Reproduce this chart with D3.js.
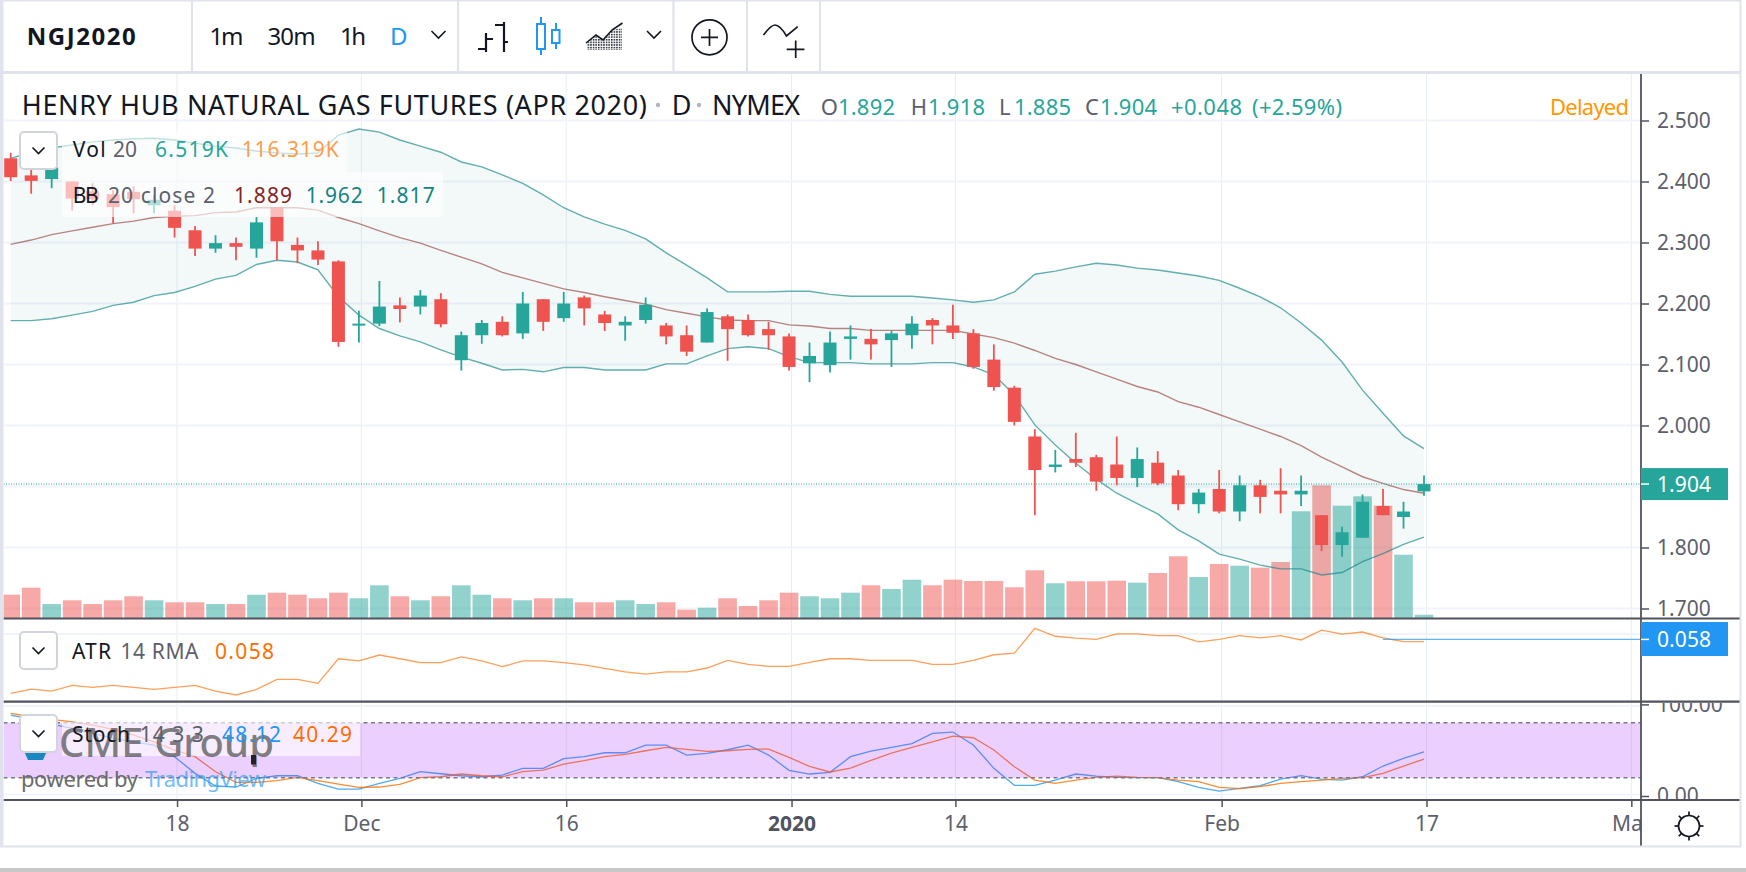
<!DOCTYPE html>
<html>
<head>
<meta charset="utf-8">
<script src="https://cdn.jsdelivr.net/npm/d3@7"></script>
<style>
  html, body { margin: 0; padding: 0; background: #fff; overflow: hidden; }
  svg { display: block; font-family: "Noto Sans", sans-serif; }
</style>
</head>
<body>
<svg id="chart" width="1746" height="872"></svg>
<script>
// daily bars, NGJ2020
const open = [
  2.438,2.410,2.404,2.400,2.384,2.379,2.383,2.361,2.352,2.320,
  2.290,2.299,2.290,2.358,2.296,2.287,2.269,2.165,2.167,2.197,
  2.195,2.207,2.107,2.148,2.170,2.151,2.207,2.176,2.210,2.182,
  2.164,2.173,2.164,2.148,2.136,2.179,2.173,2.158,2.146,2.102,
  2.099,2.142,2.142,2.140,2.148,2.173,2.164,2.151,2.108,2.062,
  1.982,1.932,1.945,1.948,1.936,1.914,1.939,1.918,1.871,1.896,
  1.859,1.902,1.893,1.887,1.853,1.804,1.816,1.868,1.850,1.892];
const high = [
  2.447,2.419,2.427,2.400,2.397,2.386,2.392,2.378,2.361,2.327,
  2.312,2.308,2.342,2.358,2.308,2.302,2.271,2.188,2.237,2.210,
  2.222,2.217,2.154,2.173,2.179,2.219,2.207,2.219,2.213,2.188,
  2.179,2.210,2.168,2.164,2.192,2.182,2.182,2.170,2.151,2.136,
  2.154,2.164,2.158,2.155,2.179,2.176,2.198,2.158,2.133,2.065,
  1.994,1.960,1.988,1.952,1.982,1.964,1.958,1.927,1.896,1.927,
  1.918,1.911,1.930,1.918,1.853,1.834,1.887,1.896,1.875,1.918];
const low = [
  2.401,2.380,2.389,2.352,2.361,2.331,2.348,2.348,2.308,2.278,
  2.283,2.271,2.275,2.271,2.266,2.263,2.129,2.136,2.163,2.169,
  2.182,2.161,2.090,2.134,2.146,2.142,2.155,2.170,2.164,2.155,
  2.139,2.167,2.133,2.114,2.136,2.106,2.146,2.124,2.090,2.071,
  2.087,2.108,2.108,2.096,2.126,2.133,2.142,2.093,2.057,2.000,
  1.853,1.923,1.932,1.893,1.902,1.899,1.902,1.861,1.856,1.856,
  1.843,1.856,1.856,1.868,1.794,1.785,1.816,1.853,1.831,1.885];
const close = [
  2.407,2.401,2.423,2.372,2.371,2.358,2.371,2.370,2.324,2.290,
  2.299,2.293,2.333,2.302,2.287,2.272,2.137,2.167,2.195,2.191,
  2.213,2.166,2.148,2.168,2.148,2.200,2.170,2.200,2.192,2.168,
  2.170,2.198,2.146,2.121,2.186,2.158,2.148,2.148,2.096,2.114,
  2.136,2.146,2.133,2.151,2.167,2.164,2.152,2.096,2.063,2.006,
  1.927,1.936,1.939,1.908,1.914,1.945,1.905,1.871,1.890,1.859,
  1.902,1.883,1.887,1.893,1.804,1.825,1.875,1.853,1.859,1.904];
// volume in thousands
const volume = [
  46.6,60.6,28,35.4,28,35.4,43.4,35.4,31.4,31.4,
  28,28,46.6,50.6,46.6,39.4,50.6,39.4,65.4,43.4,
  35.4,43.4,65.4,46.6,39.4,35.4,39.4,39.4,31.4,31.4,
  35.4,28,31.4,16.6,20.6,39.4,24,35.4,50.6,43.4,
  39.4,50.6,65.4,58,76.6,65.4,76.6,74,74,61.4,
  95.4,69.4,73.4,73.4,74.6,70.6,90,123.4,82,108,
  104.6,100.6,112,213.4,265.4,224.6,243.4,224.6,126.6,6.519];
// bollinger 20 close 2
const bbUpper = [
  2.438,2.448,2.455,2.460,2.465,2.468,2.470,2.471,2.468,2.463,
  2.458,2.455,2.450,2.447,2.445,2.447,2.476,2.486,2.481,2.468,
  2.458,2.448,2.432,2.424,2.411,2.397,2.378,2.357,2.342,2.330,
  2.320,2.306,2.283,2.263,2.242,2.219,2.219,2.219,2.220,2.220,
  2.215,2.212,2.212,2.212,2.212,2.209,2.206,2.202,2.206,2.219,
  2.248,2.253,2.260,2.266,2.263,2.258,2.255,2.250,2.245,2.238,
  2.225,2.211,2.193,2.168,2.140,2.104,2.058,2.020,1.983,1.962];
const bbMiddle = [
  2.297,2.304,2.313,2.319,2.325,2.331,2.335,2.341,2.343,2.344,
  2.349,2.350,2.357,2.357,2.357,2.353,2.341,2.331,2.319,2.308,
  2.299,2.287,2.276,2.265,2.251,2.242,2.233,2.224,2.218,2.211,
  2.205,2.199,2.190,2.184,2.178,2.173,2.172,2.172,2.165,2.163,
  2.159,2.159,2.156,2.156,2.156,2.156,2.156,2.150,2.144,2.135,
  2.123,2.110,2.100,2.088,2.076,2.064,2.055,2.039,2.030,2.018,
  2.006,1.994,1.982,1.967,1.948,1.932,1.916,1.905,1.895,1.889];
const bbLower = [
  2.172,2.172,2.175,2.181,2.187,2.197,2.202,2.213,2.218,2.228,
  2.240,2.246,2.264,2.271,2.268,2.255,2.211,2.181,2.159,2.147,
  2.137,2.124,2.112,2.102,2.091,2.092,2.088,2.095,2.095,2.091,
  2.091,2.091,2.101,2.101,2.114,2.126,2.129,2.126,2.113,2.103,
  2.103,2.103,2.101,2.101,2.101,2.103,2.103,2.096,2.083,2.050,
  2.001,1.968,1.938,1.912,1.889,1.872,1.855,1.829,1.811,1.789,
  1.781,1.771,1.765,1.765,1.755,1.759,1.777,1.790,1.805,1.817];
const atr = [
  .0376,.0392,.0385,.0406,.0399,.0406,.0399,.0391,.0399,.0406,
  .0385,.0370,.0391,.0429,.0429,.0414,.0507,.0499,.0521,.0507,
  .0492,.0492,.0514,.0499,.0477,.0499,.0499,.0492,.0484,.0471,
  .0457,.0449,.0457,.0457,.0472,.0501,.0486,.0478,.0478,.0493,
  .0507,.0507,.0501,.0501,.0501,.0486,.0486,.0501,.0522,.0528,
  .0622,.0592,.0585,.0580,.0601,.0601,.0594,.0594,.0571,.0580,
  .0594,.0586,.0594,.0578,.0615,.0600,.0608,.0586,.0572,.0572];
const stochK = [
  88.3,84,78.5,73.8,68.3,62.9,59.2,55.6,42.9,24.7,
  10.9,9.8,19.2,22.1,22.1,13.8,7.6,7.6,13.8,19.2,
  26.5,24.3,22.1,21,22.9,30.2,30.2,40.7,42.9,47.2,
  47.2,55.6,55.6,44.7,46.5,50.5,55.6,44.7,28,24,
  25.8,42.9,49.1,53.1,57.1,68.3,69.8,55.6,30.2,11.6,
  11.6,17.4,24,21.8,20.3,20,20,15.6,9.4,5.4,
  8.3,11.2,18.5,22.2,18.5,17.4,21,32.7,41,48.12];
const stochD = [
  90.1,86.5,83.6,81,77.4,72.7,66.5,59.2,50.1,42.9,
  26.5,14.9,14.9,16.7,20.3,16.7,13,9.4,9.8,12.7,
  20,21,24,22.1,21,26.5,28.3,34.9,38.5,42.9,
  45.4,49.4,53.1,50.9,48.7,49.4,50.9,51.2,42.1,32.3,
  26.2,30.5,38.9,46.9,53.1,59.2,65.4,63.6,50.2,32,
  17.4,13.8,17.4,20.3,21.8,20.3,20,17.4,15.6,9.4,
  8,10.2,13.8,15.6,17.4,19.3,20,24.7,32.7,40.29];

const timeTickBars = [8, 17, 27, 38, 46, 59, 69, 79];
const timeTickLabels = ['18', 'Dec', '16', '2020', '14', 'Feb', '17', 'Mar'];
const priceTicks = [2.5, 2.4, 2.3, 2.2, 2.1, 2.0, 1.9, 1.8, 1.7];
const lastPrice = 1.904;
const atrLast = 0.058;
const stochBands = [80, 20];

const GREEN = '#26a69a', RED = '#ef5350', INK = '#131722', MUTED = '#5d606b';
const LINE = '#50535e', BORDER = '#e0e3eb', GRID = '#f0f3fa', VGRID = '#e6edf3';
const AXIS_X = 1641, LEFT = 3.5, RIGHT_EDGE = 1740;

const bars = d3.range(open.length);
const x = d3.scaleLinear().domain([0, 69]).range([10.7, 1424]);
const gridX = i => x(i) + 2.5;
const yPrice = d3.scaleLinear().domain([1.7, 2.5]).range([608.5, 120.5]);
const yVol = d3.scaleLinear().domain([0, 265.4]).range([618, 485.3]);
const yAtr = d3.scaleLinear().domain([0.037, 0.0622]).range([695, 628.3]);
const yStoch = d3.scaleLinear().domain([0, 100]).range([796, 704.4]);

const svg = d3.select('#chart');
const defs = svg.append('defs');
function clip(id, x0, y0, w, h) {
  defs.append('clipPath').attr('id', id).append('rect')
    .attr('x', x0).attr('y', y0).attr('width', w).attr('height', h);
}
clip('mainPane', LEFT, 74, AXIS_X - LEFT, 544);
clip('atrPane', LEFT, 620, AXIS_X - LEFT, 81);
clip('stochPane', LEFT, 703, AXIS_X - LEFT, 96);
clip('stochAxis', AXIS_X, 703, 100, 96);
clip('timeAxis', LEFT, 800, AXIS_X - LEFT, 46);

// small text helper, width stretches the run to what the picture measures
function label(g, px, baseline, str, size, fill, width, weight) {
  const t = g.append('text').attr('x', px).attr('y', baseline)
    .attr('font-size', size).attr('fill', fill).text(str);
  if (width) t.attr('textLength', width);
  if (weight) t.attr('font-weight', weight);
  return t;
}
function hline(g, x0, x1, y, color, w) {
  return g.append('line').attr('x1', x0).attr('x2', x1).attr('y1', y).attr('y2', y)
    .attr('stroke', color).attr('stroke-width', w);
}
function vline(g, px, y0, y1, color, w) {
  return g.append('line').attr('x1', px).attr('x2', px).attr('y1', y0).attr('y2', y1)
    .attr('stroke', color).attr('stroke-width', w);
}

// grid
const grid = svg.append('g');
timeTickBars.forEach(i => {
  vline(grid, gridX(i), 74, 618, VGRID, 1);
  vline(grid, gridX(i), 620, 701, VGRID, 1);
  vline(grid, gridX(i), 703, 799, VGRID, 1);
});
priceTicks.forEach(p => hline(grid, LEFT, AXIS_X, yPrice(p), GRID, 2));
hline(grid, LEFT, AXIS_X, 634, GRID, 2);
[100, 0].forEach(v => hline(grid, LEFT, AXIS_X, yStoch(v) + (v ? 1.5 : -1.5), GRID, 2));

// price pane
const main = svg.append('g').attr('clip-path', 'url(#mainPane)');
main.selectAll('rect.vol').data(bars).join('rect').attr('class', 'vol')
  .attr('x', i => x(i) - 9.3).attr('width', 18.6)
  .attr('y', i => yVol(volume[i])).attr('height', i => yVol(0) - yVol(volume[i]))
  .attr('fill', i => close[i] >= open[i] ? GREEN : RED)
  .attr('fill-opacity', 0.5);

const bandArea = d3.area().x(i => x(i)).y0(i => yPrice(bbLower[i])).y1(i => yPrice(bbUpper[i]));
main.append('path').datum(bars).attr('d', bandArea).attr('fill', '#138484').attr('fill-opacity', 0.05);
function priceLine(values, color, opacity) {
  main.append('path').datum(bars)
    .attr('d', d3.line().x(i => x(i)).y(i => yPrice(values[i])))
    .attr('fill', 'none').attr('stroke', color).attr('stroke-width', 1.4).attr('stroke-opacity', opacity);
}
priceLine(bbUpper, '#138484', 0.65);
priceLine(bbLower, '#138484', 0.65);
priceLine(bbMiddle, '#872323', 0.55);

hline(main, LEFT, AXIS_X, yPrice(lastPrice), GREEN, 1).attr('stroke-dasharray', '1 1.5');

const candle = i => close[i] >= open[i] ? GREEN : RED;
main.selectAll('line.wick').data(bars).join('line').attr('class', 'wick')
  .attr('x1', x).attr('x2', x)
  .attr('y1', i => yPrice(high[i])).attr('y2', i => yPrice(low[i]))
  .attr('stroke', candle).attr('stroke-width', 1.8);
main.selectAll('rect.body').data(bars).join('rect').attr('class', 'body')
  .attr('x', i => x(i) - 6.5).attr('width', 13)
  .attr('y', i => yPrice(Math.max(open[i], close[i])))
  .attr('height', i => Math.max(2, Math.abs(yPrice(open[i]) - yPrice(close[i]))))
  .attr('fill', candle);

// atr pane
const atrPane = svg.append('g').attr('clip-path', 'url(#atrPane)');
atrPane.append('path').datum(bars)
  .attr('d', d3.line().x(i => x(i)).y(i => yAtr(atr[i])))
  .attr('fill', 'none').attr('stroke', '#ff6d00').attr('stroke-width', 1.3).attr('stroke-opacity', 0.65);
hline(atrPane, x(67), AXIS_X, yAtr(atrLast), '#2196f3', 1.2).attr('stroke-opacity', 0.7);

// stoch pane, the purple band sits on top of the lines
const stochPane = svg.append('g').attr('clip-path', 'url(#stochPane)');
function stochLine(values, color) {
  stochPane.append('path').datum(bars)
    .attr('d', d3.line().x(i => x(i)).y(i => yStoch(values[i])))
    .attr('fill', 'none').attr('stroke', color).attr('stroke-width', 1.3).attr('stroke-opacity', 0.8);
}
stochLine(stochK, '#2196f3');
stochLine(stochD, '#ff6d00');
stochPane.append('rect').attr('x', LEFT).attr('width', AXIS_X - LEFT)
  .attr('y', yStoch(stochBands[0])).attr('height', yStoch(stochBands[1]) - yStoch(stochBands[0]))
  .attr('fill', '#9915ff').attr('fill-opacity', 0.2);
stochBands.forEach(v => hline(stochPane, LEFT, AXIS_X, yStoch(v), '#787b86', 1.4).attr('stroke-dasharray', '4 3.5'));

// axes
function styleAxis(g) {
  g.select('.domain').remove();
  g.selectAll('.tick line').attr('stroke', LINE).attr('stroke-width', 1.5);
  g.selectAll('.tick text').attr('fill', MUTED).attr('font-size', 21)
    .attr('font-family', '"Noto Sans", sans-serif');
}
svg.append('g').attr('transform', `translate(${AXIS_X},0)`)
  .call(d3.axisRight(yPrice).tickValues(priceTicks.filter(p => p !== 1.9))
    .tickFormat(d3.format('.3f')).tickSize(8).tickPadding(8))
  .call(styleAxis);
// clip sits on a wrapper, clip rects are in page coordinates
svg.append('g').attr('clip-path', 'url(#stochAxis)')
  .append('g').attr('transform', `translate(${AXIS_X},0)`)
  .call(d3.axisRight(yStoch).tickValues([100, 0])
    .tickFormat(d3.format('.2f')).tickSize(8).tickPadding(8))
  .call(styleAxis);
svg.append('g').attr('clip-path', 'url(#timeAxis)')
  .append('g').attr('transform', 'translate(0,800)')
  .call(d3.axisBottom(d3.scaleLinear().domain(x.domain()).range(x.range().map(v => v + 2.5)))
    .tickValues(timeTickBars).tickFormat((d, i) => timeTickLabels[i]).tickSize(7).tickPadding(9))
  .call(styleAxis)
  .call(g => g.selectAll('.tick text').filter((d, i) => timeTickLabels[i] === '2020').attr('font-weight', 700).attr('fill', LINE));

// separators and last value pills
hline(svg, LEFT, RIGHT_EDGE, 618.5, LINE, 2.2);
hline(svg, LEFT, RIGHT_EDGE, 701.7, LINE, 2.2);
hline(svg, LEFT, RIGHT_EDGE, 800, LINE, 2.2);
vline(svg, AXIS_X, 74, 846, LINE, 1.8);

svg.append('rect').attr('x', AXIS_X).attr('y', yPrice(lastPrice) - 16).attr('width', 87).attr('height', 32).attr('fill', GREEN);
hline(svg, AXIS_X, AXIS_X + 8, yPrice(lastPrice), '#fff', 1.5);
label(svg, 1657, yPrice(lastPrice) + 7.5, d3.format('.3f')(lastPrice), 21, '#fff', 54);
svg.append('rect').attr('x', AXIS_X).attr('y', 622).attr('width', 87).attr('height', 34).attr('fill', '#2196f3');
hline(svg, AXIS_X, AXIS_X + 8, yAtr(atrLast), '#fff', 1.5);
label(svg, 1657, yAtr(atrLast) + 7.5, d3.format('.3f')(atrLast), 21, '#fff', 54);

// legends
const legend = svg.append('g');
function backdrop(x0, y0, w, h) {
  legend.append('rect').attr('x', x0).attr('y', y0).attr('width', w).attr('height', h)
    .attr('fill', '#fff').attr('fill-opacity', 0.62);
}
function chevron(g, cx, cy, r) {
  g.append('path').attr('d', `M${cx - r} ${cy - r / 2} L${cx} ${cy + r / 2} L${cx + r} ${cy - r / 2}`)
    .attr('fill', 'none').attr('stroke', INK).attr('stroke-width', 1.6);
}
function button(y0) {
  legend.append('rect').attr('x', 20).attr('y', y0).attr('width', 37).attr('height', 37).attr('rx', 4)
    .attr('fill', '#fff').attr('stroke', '#d1d4dc').attr('stroke-width', 2);
  chevron(legend, 38.5, y0 + 18.5, 6);
}
backdrop(62, 131, 285, 41);
backdrop(62, 172, 381, 45);
backdrop(62, 722, 298, 34);

// watermark goes over the backdrop but under the buttons and legend text
label(legend, 59, 757, 'CME Group', 40, '#4a4a4a', 215, 500).attr('fill-opacity', 0.7);
label(legend, 21, 787, 'powered by', 22, '#6b6b6b', 117);
label(legend, 145, 787, 'TradingView', 22, '#2196f3', 121).attr('fill-opacity', 0.65);
legend.append('path').attr('d', 'M24 751 L47 751 L43 760 L28 760 Z').attr('fill', '#1b87c0');
legend.append('rect').attr('x', 251).attr('y', 755).attr('width', 5).attr('height', 9.5).attr('fill', '#222');

button(132);
button(632);
button(715);
label(legend, 72.7, 157, 'Vol', 21, INK, 33);
label(legend, 113, 157, '20', 21, MUTED, 24);
label(legend, 155, 157, '6.519K', 21, GREEN, 73);
label(legend, 241.7, 157, '116.319K', 21, '#ff9d4d', 97);
label(legend, 72.7, 203, 'BB', 21, INK, 26);
label(legend, 108, 203, '20 close 2', 21, MUTED, 107);
label(legend, 234, 203, '1.889', 21, '#872323', 58);
label(legend, 305.7, 203, '1.962', 21, '#138484', 57);
label(legend, 376.7, 203, '1.817', 21, '#138484', 58);
label(legend, 72, 658.5, 'ATR', 21, INK, 39);
label(legend, 120.5, 658.5, '14 RMA', 21, MUTED, 78);
label(legend, 215, 658.5, '0.058', 21, '#ff6d00', 59);
label(legend, 72, 742, 'Stoch', 21, INK, 58);
label(legend, 139.7, 742, '14 3 3', 21, MUTED, 64);
label(legend, 222, 742, '48.12', 21, '#2196f3', 59);
label(legend, 293, 742, '40.29', 21, '#ff6d00', 59);

// header row of the chart
const head = svg.append('g');
label(head, 21.8, 114.5, 'HENRY HUB NATURAL GAS FUTURES (APR 2020)', 27, INK, 625);
head.selectAll('circle.dot').data([658, 699]).join('circle').attr('class', 'dot')
  .attr('cx', d => d).attr('cy', 105).attr('r', 2.2).attr('fill', '#b2b5be');
label(head, 671.7, 114.5, 'D', 27, INK, 15);
label(head, 712, 114.5, 'NYMEX', 27, INK, 88);
[['O', 820.7, 16], ['H', 910.7, 14], ['L', 999, 12], ['C', 1085, 13]].forEach(d => label(head, d[1], 115, d[0], 22, MUTED, d[2]));
[['1.892', 838], ['1.918', 928], ['1.885', 1014], ['1.904', 1100]].forEach(d => label(head, d[1], 115, d[0], 22, GREEN, 57));
label(head, 1171, 115, '+0.048', 22, GREEN, 71);
label(head, 1252, 115, '(+2.59%)', 22, GREEN, 90);
label(head, 1550, 115, 'Delayed', 22, '#ff9800', 79);

// toolbar
const bar = svg.append('g');
bar.append('rect').attr('x', 0).attr('y', 0).attr('width', 1746).attr('height', 72).attr('fill', '#fff');
label(bar, 26.7, 45, 'NGJ2020', 24, INK, 109, 700);
label(bar, 209.4, 45, '1m', 24, INK, 34);
label(bar, 267.6, 45, '30m', 24, INK, 48);
label(bar, 340, 45, '1h', 24, INK, 26);
label(bar, 390, 45, 'D', 24, '#2196f3', 14);
[192, 458, 673.5, 747, 820].forEach(px => vline(bar, px, 0, 72, BORDER, 2.2));
chevron(bar, 438.5, 34.5, 7);
chevron(bar, 654, 34.5, 7);
// ohlc bars icon
bar.append('path').attr('d', 'M486 33 V52 M478 49 H486 M486 39 H493 M504 22 V52 M495 25 H504 M504 42 H508')
  .attr('fill', 'none').attr('stroke', INK).attr('stroke-width', 2.2);
// candle icon
bar.append('path').attr('d', 'M541 17 V24 M541 49 V55 M556 23 V30 M556 43 V49')
  .attr('stroke', '#2196f3').attr('stroke-width', 2);
bar.append('rect').attr('x', 537).attr('y', 24).attr('width', 8).attr('height', 25)
  .attr('fill', 'none').attr('stroke', '#2196f3').attr('stroke-width', 2);
bar.append('rect').attr('x', 552).attr('y', 30).attr('width', 7.5).attr('height', 13)
  .attr('fill', 'none').attr('stroke', '#2196f3').attr('stroke-width', 2);
// area icon
const dots = defs.append('pattern').attr('id', 'dots').attr('width', 2.6).attr('height', 2.6).attr('patternUnits', 'userSpaceOnUse');
dots.append('rect').attr('width', 1.5).attr('height', 1.5).attr('fill', INK);
bar.append('path').attr('d', 'M587 50 V43 L596 35 L603 40 L612 30 L622 28 V50 Z').attr('fill', 'url(#dots)');
bar.append('path').attr('d', 'M586 43 L596 35 L603 40 L612 30 L622.5 23').attr('fill', 'none').attr('stroke', INK).attr('stroke-width', 1.6);
// compare and indicators icons
bar.append('circle').attr('cx', 709.5).attr('cy', 37.3).attr('r', 17.5).attr('fill', 'none').attr('stroke', INK).attr('stroke-width', 1.7);
bar.append('path').attr('d', 'M701 37.3 H718 M709.5 29 V46 M786.7 49.3 H804.4 M795.7 40.6 V58')
  .attr('stroke', INK).attr('stroke-width', 1.7);
bar.append('path').attr('d', 'M763.5 35 Q771 25 775 25 Q780 25 786.5 36 L797.7 26.7')
  .attr('fill', 'none').attr('stroke', INK).attr('stroke-width', 1.7);

// settings sun
const sun = bar.append('g').attr('transform', 'translate(1689,826)');
sun.append('circle').attr('r', 10.5).attr('fill', 'none').attr('stroke', INK).attr('stroke-width', 1.7);
d3.range(8).forEach(k => {
  const a = k * Math.PI / 4;
  sun.append('line').attr('x1', 10.5 * Math.cos(a)).attr('y1', 10.5 * Math.sin(a))
    .attr('x2', 14.5 * Math.cos(a)).attr('y2', 14.5 * Math.sin(a))
    .attr('stroke', INK).attr('stroke-width', 1.7);
});

// outer frame
const frame = svg.append('g');
hline(frame, 0, 1741, 0.5, BORDER, 2);
hline(frame, 0, 1741, 72.5, BORDER, 3);
vline(frame, 1.7, 0, 847, BORDER, 3.5);
vline(frame, 1740.5, 0, 847, BORDER, 2);
hline(frame, 0, 1741, 846.5, BORDER, 2);
frame.append('rect').attr('x', 0).attr('y', 868).attr('width', 1746).attr('height', 4).attr('fill', '#c6c6c6');
</script>
</body>
</html>
